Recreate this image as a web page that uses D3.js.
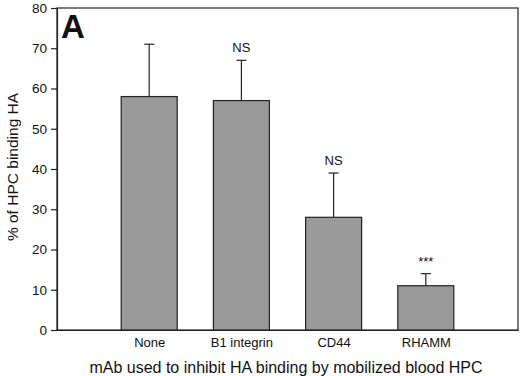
<!DOCTYPE html>
<html>
<head>
<meta charset="utf-8">
<script src="https://cdn.jsdelivr.net/npm/d3@7"></script>
<style>
  body { margin: 0; background: #fff; }
  text { font-family: Arial, "Liberation Sans", sans-serif; fill: #111; }
</style>
</head>
<body>
<div id="chart"></div>
<script>
// data
const categories = ["None", "B1 integrin", "CD44", "RHAMM"];
const values = [58, 57, 28, 11];
const errTops = [71, 67, 39, 14];
const marks = ["", "NS", "NS", "***"];
const yTicks = [0, 10, 20, 30, 40, 50, 60, 70, 80];

let width = 520, height = 376,
    margin = ({ top: 8, right: 2, bottom: 46, left: 57 });

const svg = d3.select("#chart")
  .append("svg")
  .attr("width", width)
  .attr("height", height);

// bars sit on slots 1..4 of a 0..5 axis
let x = d3.scaleLinear()
  .domain([0, categories.length + 1])
  .range([margin.left, width - margin.right]);

let y = d3.scaleLinear()
  .domain([0, 80])
  .range([height - margin.bottom, margin.top]);

const barW = 56;

// frame (top + right)
svg.append("rect")
  .attr("x", margin.left).attr("y", margin.top)
  .attr("width", width - margin.right - margin.left)
  .attr("height", height - margin.bottom - margin.top)
  .attr("fill", "none").attr("stroke", "#222").attr("stroke-width", 1.2);

// y axis
svg.append("g")
  .attr("transform", `translate(${margin.left},0)`)
  .call(d3.axisLeft(y).tickValues(yTicks).tickSize(6).tickPadding(4))
  .call(g => g.selectAll("text").style("font-size", "13.5px"))
  .call(g => g.selectAll("line, path").attr("stroke", "#222").attr("stroke-width", 1.2));

// x axis (no ticks, just labels)
svg.append("g")
  .attr("transform", `translate(0,${height - margin.bottom})`)
  .call(d3.axisBottom(x).tickValues(d3.range(1, categories.length + 1))
    .tickFormat(i => categories[i - 1]).tickSize(0).tickPadding(8))
  .call(g => g.select(".domain").attr("stroke", "#222").attr("stroke-width", 1.2))
  .call(g => g.selectAll("text").style("font-size", "13px"));

// error bars (upper only)
const eb = svg.append("g").attr("stroke", "#222").attr("stroke-width", 1.2);
categories.forEach((c, i) => {
  const cx = x(i + 1);
  eb.append("line").attr("x1", cx).attr("x2", cx).attr("y1", y(values[i])).attr("y2", y(errTops[i]));
  eb.append("line").attr("x1", cx - 5).attr("x2", cx + 5).attr("y1", y(errTops[i])).attr("y2", y(errTops[i]));
});

// bars
svg.append("g")
  .selectAll("rect")
  .data(values)
  .join("rect")
  .attr("x", (d, i) => x(i + 1) - barW / 2)
  .attr("y", d => y(d))
  .attr("width", barW)
  .attr("height", d => y(0) - y(d))
  .attr("fill", "#9a9a9a")
  .attr("stroke", "#222")
  .attr("stroke-width", 1.2);

// significance labels
svg.append("g")
  .selectAll("text")
  .data(marks)
  .join("text")
  .attr("x", (d, i) => x(i + 1))
  .attr("y", (d, i) => y(errTops[i]) - 8)
  .attr("text-anchor", "middle")
  .style("font-size", "13px")
  .text(d => d);

// panel letter
svg.append("text")
  .attr("x", 61).attr("y", 38)
  .style("font-size", "33px").style("font-weight", "bold")
  .text("A");

// axis titles
svg.append("text")
  .attr("transform", `translate(18,167) rotate(-90)`)
  .attr("text-anchor", "middle")
  .style("font-size", "15.5px")
  .text("% of HPC binding HA");

svg.append("text")
  .attr("x", 286)
  .attr("y", 373)
  .attr("text-anchor", "middle")
  .style("font-size", "16px")
  .text("mAb used to inhibit HA binding by mobilized blood HPC");
</script>
</body>
</html>
